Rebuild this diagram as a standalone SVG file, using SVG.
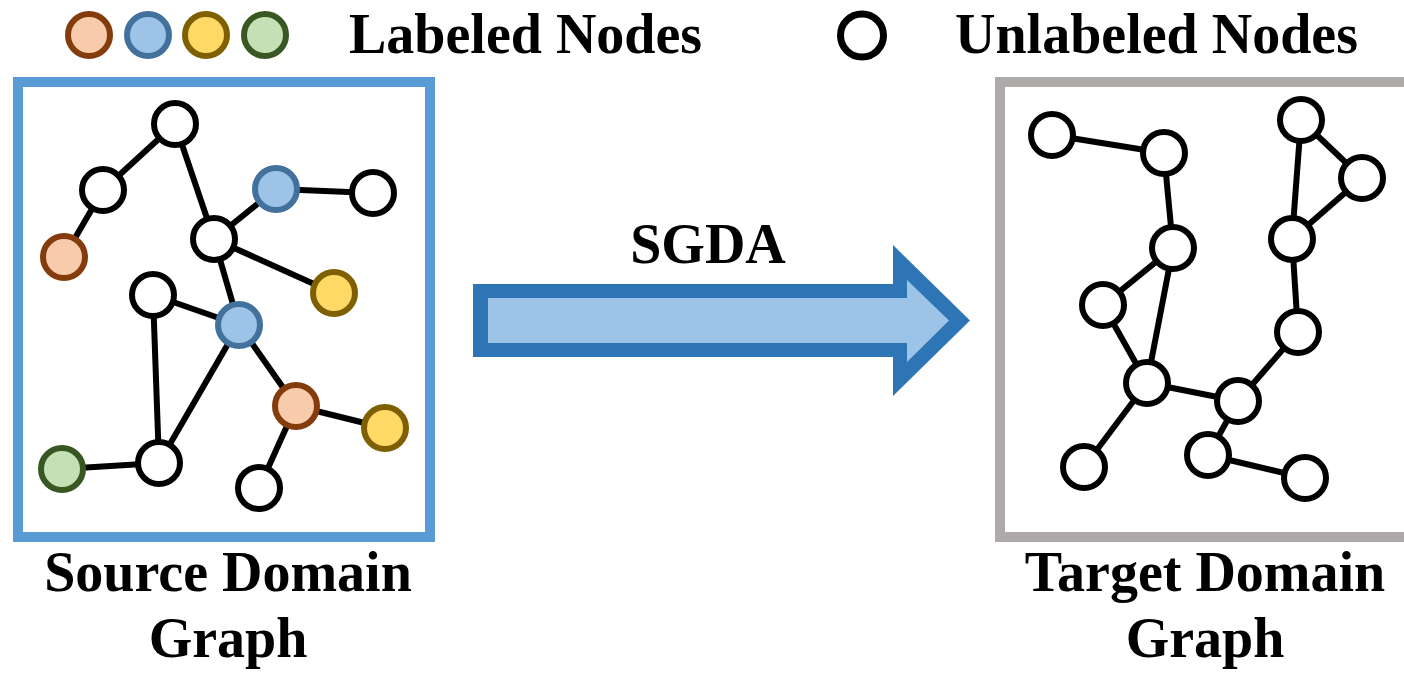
<svg xmlns="http://www.w3.org/2000/svg" width="1404" height="673" viewBox="0 0 1404 673">
<style>
.t{font-family:"Liberation Serif","Times New Roman",serif;font-weight:bold;font-size:56px;fill:#000}
.e{stroke:#000;stroke-width:6;fill:none}
.n{stroke-width:6}
.w{fill:#fff;stroke:#000}
.o{fill:#f8cbad;stroke:#843c0c}
.b{fill:#9dc3e6;stroke:#41719c}
.y{fill:#ffd966;stroke:#7f6000}
.g{fill:#c5e0b4;stroke:#385723}
</style>
<rect width="1404" height="673" fill="#fff"/>
<g id="legend">
<circle class="n o" cx="89" cy="35" r="21"/>
<circle class="n b" cx="148" cy="35" r="21"/>
<circle class="n y" cx="206" cy="35" r="21"/>
<circle class="n g" cx="265" cy="35" r="21"/>
<text class="t" x="349" y="53">Labeled Nodes</text>
<circle class="w" cx="862" cy="35.5" r="21.5" stroke-width="7"/>
<text class="t" x="955" y="53">Unlabeled Nodes</text>
</g>
<g id="source-box">
<rect x="18" y="82" width="412" height="455" fill="none" stroke="#5b9bd5" stroke-width="10"/>
<text class="t" x="228" y="591" text-anchor="middle">Source Domain</text>
<text class="t" x="228" y="657" text-anchor="middle">Graph</text>
</g>
<g id="target-box">
<rect x="1000" y="82" width="420" height="455" fill="none" stroke="#aeaaaa" stroke-width="10"/>
<text class="t" x="1205" y="591" text-anchor="middle">Target Domain</text>
<text class="t" x="1205" y="657" text-anchor="middle">Graph</text>
</g>
<g id="connectors">
<g class="e">
<line x1="175" y1="124" x2="103" y2="190"/>
<line x1="103" y1="190" x2="64" y2="257"/>
<line x1="175" y1="124" x2="214" y2="239"/>
<line x1="214" y1="239" x2="276" y2="189"/>
<line x1="276" y1="189" x2="373" y2="193"/>
<line x1="214" y1="239" x2="334" y2="293"/>
<line x1="214" y1="239" x2="239" y2="325"/>
<line x1="153" y1="295" x2="239" y2="325"/>
<line x1="153" y1="295" x2="159" y2="463"/>
<line x1="239" y1="325" x2="159" y2="463"/>
<line x1="239" y1="325" x2="296" y2="406"/>
<line x1="296" y1="406" x2="385" y2="428"/>
<line x1="296" y1="406" x2="259" y2="488"/>
<line x1="62" y1="469" x2="159" y2="463"/>
<line x1="1052" y1="135" x2="1164" y2="153"/>
<line x1="1164" y1="153" x2="1173" y2="248"/>
<line x1="1173" y1="248" x2="1103" y2="305"/>
<line x1="1173" y1="248" x2="1147" y2="383"/>
<line x1="1103" y1="305" x2="1147" y2="383"/>
<line x1="1147" y1="383" x2="1084" y2="467"/>
<line x1="1147" y1="383" x2="1238" y2="401"/>
<line x1="1238" y1="401" x2="1208" y2="455"/>
<line x1="1208" y1="455" x2="1305" y2="478"/>
<line x1="1238" y1="401" x2="1298" y2="332"/>
<line x1="1298" y1="332" x2="1292" y2="239"/>
<line x1="1292" y1="239" x2="1301" y2="120"/>
<line x1="1301" y1="120" x2="1362" y2="178"/>
<line x1="1362" y1="178" x2="1292" y2="239"/>
</g>
</g>
<g id="source-nodes">
<circle id="s1" class="n w" cx="175" cy="124" r="21"/>
<circle id="s2" class="n w" cx="103" cy="190" r="21"/>
<circle id="s3" class="n o" cx="64" cy="257" r="21"/>
<circle id="s4" class="n b" cx="276" cy="189" r="21"/>
<circle id="s5" class="n w" cx="373" cy="193" r="21"/>
<circle id="s6" class="n w" cx="214" cy="239" r="21"/>
<circle id="s7" class="n y" cx="334" cy="293" r="21"/>
<circle id="s8" class="n w" cx="153" cy="295" r="21"/>
<circle id="s9" class="n b" cx="239" cy="325" r="21"/>
<circle id="s10" class="n o" cx="296" cy="406" r="21"/>
<circle id="s11" class="n y" cx="385" cy="428" r="21"/>
<circle id="s12" class="n g" cx="62" cy="469" r="21"/>
<circle id="s13" class="n w" cx="159" cy="463" r="21"/>
<circle id="s14" class="n w" cx="259" cy="488" r="21"/>
</g>
<g id="target-nodes">
<circle id="t1" class="n w" cx="1052" cy="135" r="21"/>
<circle id="t2" class="n w" cx="1164" cy="153" r="21"/>
<circle id="t3" class="n w" cx="1173" cy="248" r="21"/>
<circle id="t4" class="n w" cx="1103" cy="305" r="21"/>
<circle id="t5" class="n w" cx="1147" cy="383" r="21"/>
<circle id="t6" class="n w" cx="1084" cy="467" r="21"/>
<circle id="t7" class="n w" cx="1238" cy="401" r="21"/>
<circle id="t8" class="n w" cx="1208" cy="455" r="21"/>
<circle id="t9" class="n w" cx="1305" cy="478" r="21"/>
<circle id="t10" class="n w" cx="1298" cy="332" r="21"/>
<circle id="t11" class="n w" cx="1292" cy="239" r="21"/>
<circle id="t12" class="n w" cx="1301" cy="120" r="21"/>
<circle id="t13" class="n w" cx="1362" cy="178" r="21"/>
</g>
<g id="sgda-arrow">
<polygon points="473,284 893,284 893,245 970,320.5 893,396 893,357 473,357" fill="#2e75b6"/>
<polygon points="488,298 907,298 907,280 949,320.5 907,362 907,343 488,343" fill="#9dc3e6"/>
<text class="t" x="708" y="263" text-anchor="middle">SGDA</text>
</g>
</svg>
